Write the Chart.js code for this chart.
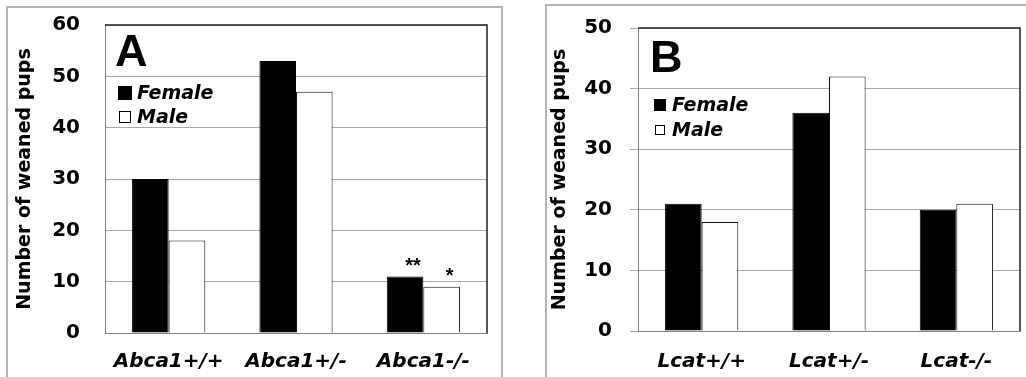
<!DOCTYPE html>
<html>
<head>
<meta charset="utf-8">
<script src="https://cdn.jsdelivr.net/npm/chart.js@4.4.1/dist/chart.umd.min.js"></script>
<style>
  html, body { margin: 0; padding: 0; background: #fff; }
  body { width: 1026px; height: 377px; position: relative; overflow: hidden; }
  .frame { position: absolute; border: 2px solid #b4b4b4; border-bottom: none; }
  .box { position: absolute; top: 0; height: 377px; }
</style>
</head>
<body>
<div class="frame" style="left:6px; top:6px; width:493px; height:380px;"></div>
<div class="frame" style="left:545px; top:4px; width:500px; height:380px;"></div>
<div class="box" style="left:0; width:510px;"><canvas id="chartA"></canvas></div>
<div class="box" style="left:510px; width:516px;"><canvas id="chartB"></canvas></div>

<script>
// data
const seriesNames = ['Female', 'Male'];

const genotypesA = ['Abca1+/+', 'Abca1+/-', 'Abca1-/-'];
const femaleA = [30, 53, 11];
const maleA = [18, 47, 9];
const starsFemaleA = ['', '', '**'];
const starsMaleA = ['', '', '*'];
const yTicksA = [0, 10, 20, 30, 40, 50, 60];

const genotypesB = ['Lcat+/+', 'Lcat+/-', 'Lcat-/-'];
const femaleB = [21, 36, 20];
const maleB = [18, 42, 21];
const yTicksB = [0, 10, 20, 30, 40, 50];

const tickFont = 'DejaVu Sans';

// frame, panel letter, legend and asterisks
const panelDecor = {
    id: 'panelDecor',
    afterDatasetsDraw(chart, args, o) {
        const ctx = chart.ctx;
        const a = chart.chartArea;
        ctx.save();

        // top and right edge of the plot box
        ctx.strokeStyle = '#222';
        ctx.lineWidth = 1.5;
        ctx.beginPath();
        ctx.moveTo(a.left, a.top);
        ctx.lineTo(a.right, a.top);
        ctx.lineTo(a.right, a.bottom);
        ctx.stroke();

        // panel letter
        ctx.fillStyle = '#000';
        ctx.font = 'bold 45px "Liberation Sans", Arial, sans-serif';
        ctx.textBaseline = 'alphabetic';
        ctx.textAlign = 'left';
        ctx.fillText(o.letter, a.left + o.letterX, a.top + o.letterY);

        // legend
        chart.data.datasets.forEach((ds, i) => {
            const cy = a.top + o.legY + i * o.legGap;
            const s = i === 0 ? o.legSize : o.legSize - 2;
            const x = a.left + o.legX + (o.legSize - s) / 2;
            ctx.fillStyle = ds.backgroundColor;
            ctx.fillRect(x, cy - s / 2, s, s);
            ctx.strokeStyle = '#000';
            ctx.lineWidth = 1;
            ctx.strokeRect(x + 0.5, cy - s / 2 + 0.5, s - 1, s - 1);
            ctx.fillStyle = '#000';
            ctx.font = 'italic bold 19px "' + tickFont + '"';
            ctx.textBaseline = 'middle';
            ctx.fillText(ds.label, a.left + o.legX + o.legText, cy + 1);
        });

        // significance marks
        if (o.stars) {
            ctx.font = 'bold 20px "Liberation Sans", Arial, sans-serif';
            ctx.textAlign = 'center';
            ctx.textBaseline = 'alphabetic';
            ctx.fillStyle = '#000';
            o.stars.forEach((list, i) => {
                const meta = chart.getDatasetMeta(i);
                list.forEach((txt, j) => {
                    if (!txt) return;
                    const bar = meta.data[j];
                    ctx.fillText(txt, bar.x + 8, bar.y - 4.5);
                });
            });
        }
        ctx.restore();
    }
};

function makeChart(id, cfg) {
    const ctx = document.getElementById(id).getContext('2d');
    return new Chart(ctx, {
        type: 'bar',
        data: {
            labels: cfg.labels,
            datasets: [{
                label: seriesNames[0],
                data: cfg.female,
                backgroundColor: '#000',
                borderColor: '#000',
                borderWidth: 1
            }, {
                label: seriesNames[1],
                data: cfg.male,
                backgroundColor: '#fff',
                borderColor: '#111',
                borderWidth: 1
            }]
        },
        options: {
            responsive: true,
            maintainAspectRatio: false,
            animation: false,
            categoryPercentage: 0.575,
            barPercentage: 1,
            layout: {
                padding: { top: cfg.padTop, right: cfg.padRight, left: 0, bottom: 0 }
            },
            plugins: {
                legend: { display: false },
                tooltip: { enabled: false },
                panelDecor: cfg.decor
            },
            scales: {
                x: {
                    grid: { display: false, drawTicks: false },
                    border: { display: true, color: '#808080', width: 1 },
                    ticks: {
                        color: '#000',
                        padding: cfg.xPad,
                        maxRotation: 0,
                        autoSkip: false,
                        font: { family: tickFont, size: 20, weight: 'bold', style: 'italic' }
                    },
                    afterFit: s => { s.height = cfg.xHeight; }
                },
                y: {
                    min: 0,
                    max: cfg.yTicks[cfg.yTicks.length - 1],
                    afterBuildTicks: s => { s.ticks = cfg.yTicks.map(v => ({ value: v })); },
                    grid: {
                        color: '#a8a8a8',
                        lineWidth: 1,
                        drawTicks: cfg.drawTicks,
                        tickLength: 8
                    },
                    border: { display: true, color: '#808080', width: 1 },
                    ticks: {
                        color: '#000',
                        padding: cfg.yPad,
                        font: { family: tickFont, size: 20, weight: 'bold' }
                    },
                    title: {
                        display: true,
                        text: 'Number of weaned pups',
                        color: '#000',
                        padding: { top: cfg.titlePad, bottom: 0 },
                        font: { family: tickFont, size: 19, weight: 'bold' }
                    },
                    afterFit: s => {
                        s.width = cfg.yWidth;
                        // keep the label padding from pushing the plot down
                        s.paddingTop = 0;
                        s.paddingBottom = 0;
                    }
                }
            }
        },
        plugins: [panelDecor]
    });
}

makeChart('chartA', {
    labels: genotypesA, female: femaleA, male: maleA, yTicks: yTicksA,
    padTop: 25, padRight: 23, xHeight: 44, xPad: 17,
    yWidth: 105, yPad: 25, drawTicks: false, titlePad: 13.6,
    decor: {
        letter: 'A', letterX: 10, letterY: 41,
        legX: 13, legY: 68, legGap: 24, legSize: 14, legText: 19,
        stars: [starsFemaleA, starsMaleA]
    }
});

makeChart('chartB', {
    labels: genotypesB, female: femaleB, male: maleB, yTicks: yTicksB,
    padTop: 28, padRight: 6, xHeight: 46, xPad: 19,
    yWidth: 128, yPad: 18, drawTicks: true, titlePad: 38.6,
    decor: {
        letter: 'B', letterX: 12, letterY: 44,
        legX: 16, legY: 77, legGap: 25, legSize: 12, legText: 18,
        stars: null
    }
});
</script>
</body>
</html>
